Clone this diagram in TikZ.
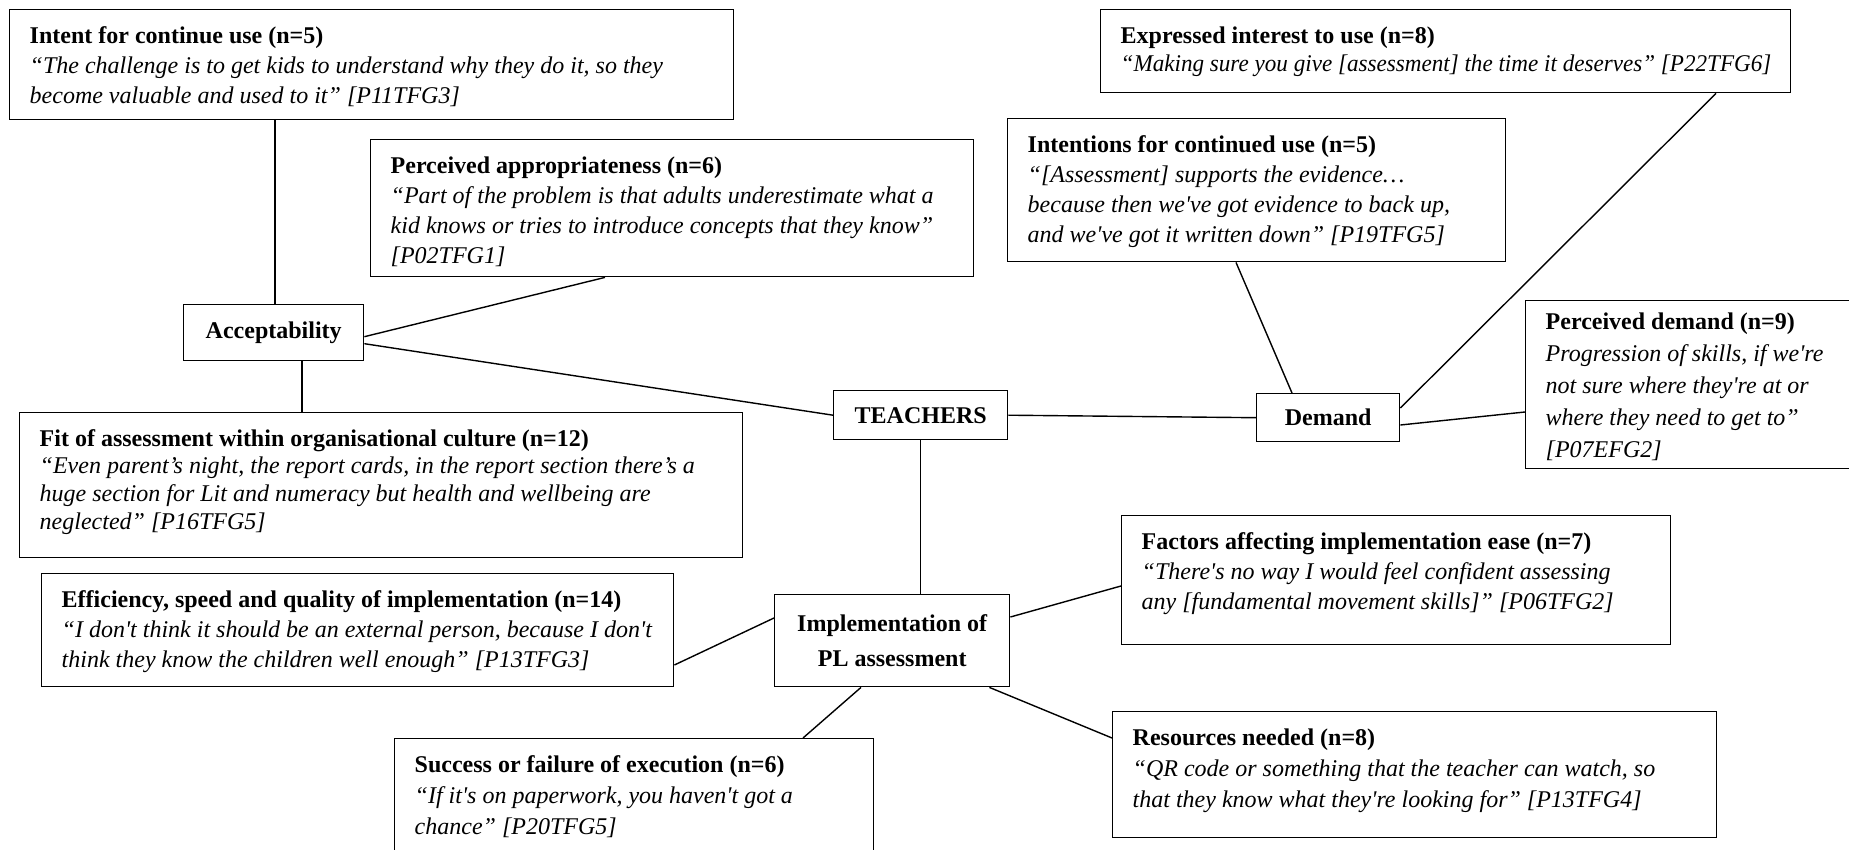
\documentclass[tikz,border=0pt]{standalone}
\usepackage{graphicx}
\usepackage{fontspec}
\setmainfont{Liberation Serif}[Ligatures=TeXOff]
\tikzset{
  qbox/.style={draw, line width=0.7pt, rectangle, anchor=north west, inner xsep=10pt, inner ysep=6pt},
  sbox/.style={draw, line width=0.7pt, rectangle, anchor=north west, inner sep=0pt, font=\fontsize{12}{17.5}\selectfont\bfseries, align=center},
  link/.style={line width=0.7pt}
}
\newlength\qtop
\setlength\qtop{2.4pt}
\newcommand{\qbox}[7][15]{%
  \node[qbox] (#2) at (#3,#4) {\begin{minipage}[t][\dimexpr #6pt/2-12pt\relax][t]{\dimexpr #5pt/2-20pt\relax}\vspace*{\qtop}\raggedright\fontsize{12}{#1}\selectfont #7\end{minipage}};}
\newcommand{\sboxnode}[6]{%
  \node[sbox, minimum width=\dimexpr #4pt/2\relax, minimum height=\dimexpr #5pt/2\relax] (#1) at (#2,#3) {#6};}
\begin{document}
\begin{tikzpicture}[x=0.5pt, y=-0.5pt]
\useasboundingbox (0,0) rectangle (1849,850);
% quote boxes
\qbox{intent}{9}{9}{724}{110}{\textbf{Intent for continue use (n=5)}\\
\textit{“The challenge is to get kids to understand why they do it, so they\\ become valuable and used to it” [P11TFG3]}}
\qbox{approp}{370}{139}{603}{137}{\textbf{Perceived appropriateness (n=6)}\\
\textit{“Part of the problem is that adults underestimate what a\\ kid knows or tries to introduce concepts that they know”\\{}[P02TFG1]}}
\qbox[13.8]{fit}{19}{412}{723}{145}{\textbf{Fit of assessment within organisational culture (n=12)}\\
\textit{“Even parent’s night, the report cards, in the report section there’s a\\ huge section for Lit and numeracy but health and wellbeing are\\ neglected” [P16TFG5]}}
\qbox{effic}{41}{573}{632}{113}{\textbf{Efficiency, speed and quality of implementation (n=14)}\\
\textit{“I don't think it should be an external person, because I don't\\ think they know the children well enough” [P13TFG3]}}
\qbox[15.5]{success}{394}{738}{479}{125}{\textbf{Success or failure of execution (n=6)}\\
\textit{“If it's on paperwork, you haven't got a\\ chance” [P20TFG5]}}
\qbox[14]{express}{1100}{9}{690}{83}{\textbf{Expressed interest to use (n=8)}\\
\mbox{\scalebox{0.963}[1]{\textit{“Making sure you give [assessment] the time it deserves” [P22TFG6]}}}}
\qbox{intentions}{1007}{118}{498}{143}{\textbf{Intentions for continued use (n=5)}\\
\textit{“[Assessment] supports the evidence…\\ because then we've got evidence to back up,\\ and we've got it written down” [P19TFG5]}}
\setlength\qtop{0pt}
\qbox[16]{pdemand}{1525}{300}{340}{168}{\textbf{Perceived demand (n=9)}\\
\textit{Progression of skills, if we're\\ not sure where they're at or\\ where they need to get to”\\{}[P07EFG2]}}
\setlength\qtop{2.4pt}
\qbox{factors}{1121}{515}{549}{129}{\textbf{Factors affecting implementation ease (n=7)}\\
\textit{“There's no way I would feel confident assessing\\ any [fundamental movement skills]” [P06TFG2]}}
\qbox[15.5]{resources}{1112}{711}{604}{126}{\textbf{Resources needed (n=8)}\\
\textit{“QR code or something that the teacher can watch, so\\ that they know what they're looking for” [P13TFG4]}}
% theme boxes
\sboxnode{accept}{183}{304}{180}{56}{Acceptability}
\sboxnode{teachers}{833}{390}{174}{49}{TEACHERS}
\sboxnode{demand}{1256}{393}{143}{48}{Demand}
\sboxnode{impl}{774}{594}{235}{92}{Implementation of\\PL assessment}
% connectors
\draw[link] ([xshift=133pt]intent.south west) -- ([xshift=46pt]accept.north west);
\draw[link] ([yshift=-2pt]accept.east) -- ([xshift=117.5pt]approp.south west);
\draw[link] ([xshift=59.5pt]accept.south west) -- ([xshift=141.5pt]fit.north west);
\draw[link] ([yshift=-5.5pt]accept.east) -- (teachers.west);
\draw[link] (teachers.east) -- (demand.west);
\draw[link] (teachers.south) -- (teachers.south |- impl.north);
\draw[link] ([xshift=18pt]demand.north west) -- ([xshift=114.5pt]intentions.south west);
\draw[link] ([yshift=-7.5pt]demand.north east) -- ([xshift=308pt]express.south west);
\draw[link] ([yshift=-16pt]demand.north east) -- ([yshift=-56pt]pdemand.north west);
\draw[link] ([yshift=-12pt]impl.north west) -- ([yshift=-46pt]effic.north east);
\draw[link] ([yshift=-11.5pt]impl.north east) -- ([yshift=-35.5pt]factors.north west);
\draw[link] ([xshift=-10.5pt]impl.south east) -- ([yshift=-13.5pt]resources.north west);
\draw[link] ([xshift=43.5pt]impl.south west) -- ([xshift=204.5pt]success.north west);
\end{tikzpicture}
\end{document}
